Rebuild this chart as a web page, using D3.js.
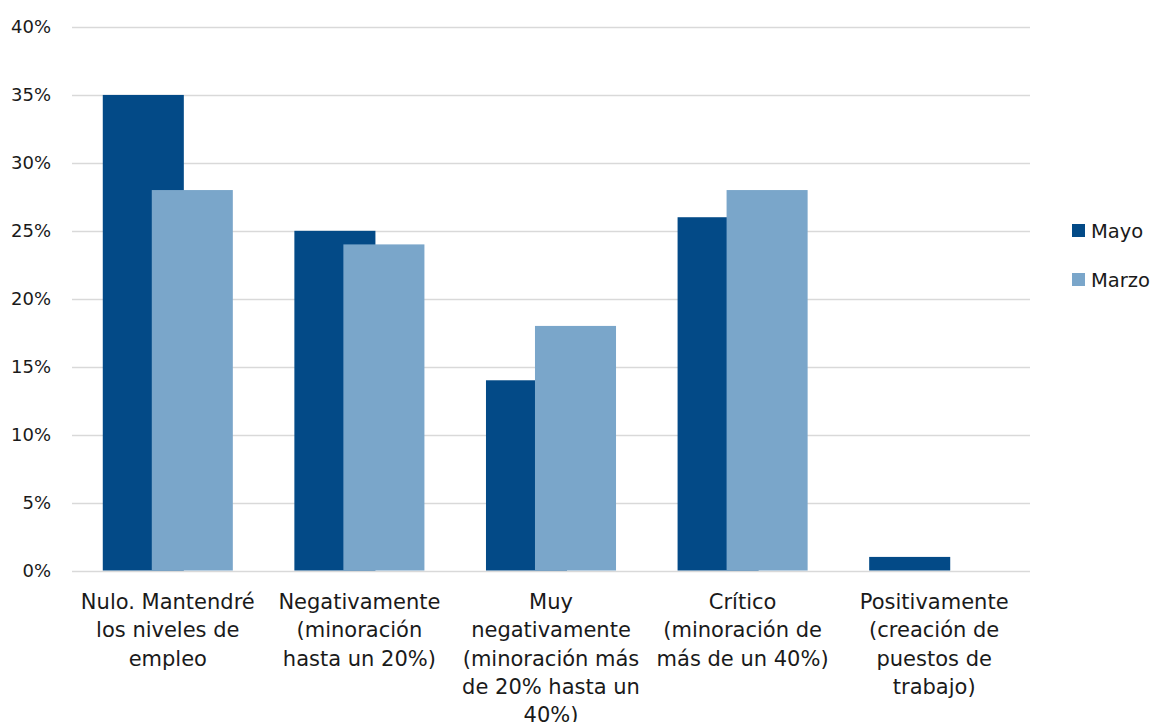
<!DOCTYPE html>
<html><head><meta charset="utf-8">
<script src="https://cdn.jsdelivr.net/npm/d3@7"></script>
<style>body{margin:0;background:#fff}svg{display:block}text{font-family:"DejaVu Sans",sans-serif;fill:#1a1a1a}</style>
</head><body><svg id="c" width="1156" height="722"></svg>
<script>
const categories = [
  ["Nulo. Mantendré","los niveles de","empleo"],
  ["Negativamente","(minoración","hasta un 20%)"],
  ["Muy","negativamente","(minoración más","de 20% hasta un","40%)"],
  ["Crítico","(minoración de","más de un 40%)"],
  ["Positivamente","(creación de","puestos de","trabajo)"]
];
const seriesNames = ["Mayo","Marzo"];
const mayo = [35,25,14,26,1];
const marzo = [28,24,18,28,0];
const yTicks = [0,5,10,15,20,25,30,35,40];
const colors = ["#034a87","#7aa6ca"];

const svg = d3.select("#c");
const mLeft = 72, mRight = 1030, mTop = 27, mBottom = 570.5;
const x = d3.scaleBand().domain(d3.range(categories.length)).range([mLeft,mRight]);
const y = d3.scaleLinear().domain([0,40]).range([mBottom,mTop]);
const barW = x.bandwidth()*0.423;
const off = d3.scaleOrdinal().domain(seriesNames).range([-24.5,24.5]);

svg.append("g").selectAll("line").data(yTicks).join("line")
  .attr("x1",mLeft).attr("x2",mRight)
  .attr("y1",d=>Math.round(y(d))+0.5).attr("y2",d=>Math.round(y(d))+0.5)
  .attr("stroke","#d9d9d9").attr("stroke-width",1.5);

svg.append("g").selectAll("text").data(yTicks).join("text")
  .attr("x",51).attr("y",d=>y(d)).attr("dy","0.36em").attr("text-anchor","end")
  .attr("font-size",18).text(d=>d+"%");

const data = [mayo, marzo];
seriesNames.forEach((s,si)=>{
  svg.append("g").selectAll("rect").data(data[si].map((v,i)=>({v,i}))).join("rect")
    .attr("x",d=>x(d.i)+x.bandwidth()/2+off(s)-barW/2)
    .attr("width",barW)
    .attr("y",d=>y(d.v)).attr("height",d=>y(0)-y(d.v))
    .attr("fill",colors[si]);
});

const lab = svg.append("g");
categories.forEach((lines,i)=>{
  const t = lab.append("text").attr("text-anchor","middle").attr("font-size",21)
    .attr("x",x(i)+x.bandwidth()/2).attr("y",609);
  lines.forEach((l,j)=>t.append("tspan").attr("x",x(i)+x.bandwidth()/2).attr("y",609+j*28.3).text(l));
});

const lg = svg.append("g");
seriesNames.forEach((s,i)=>{
  lg.append("rect").attr("x",1072).attr("y",224+i*49).attr("width",13).attr("height",13).attr("fill",colors[i]);
  lg.append("text").attr("x",1091).attr("y",230.5+i*49).attr("dy","0.36em").attr("font-size",19.5).text(s);
});
</script></body></html>
